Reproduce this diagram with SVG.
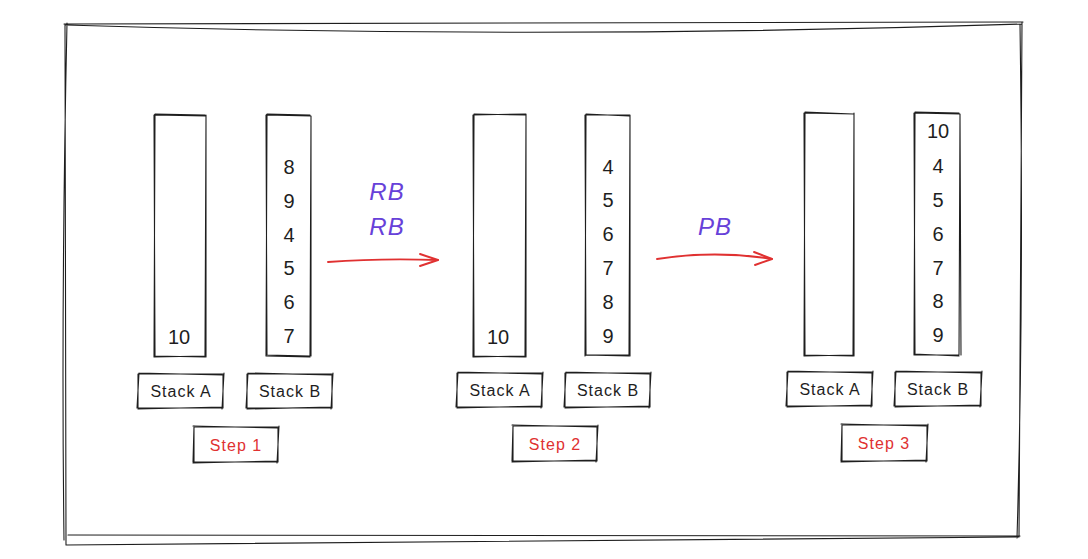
<svg xmlns="http://www.w3.org/2000/svg" width="1088" height="559" viewBox="0 0 1088 559">
<style>
.sk{fill:none;stroke:#1e1e1e;stroke-width:1.1;stroke-linecap:round;stroke-linejoin:round}
.num{font-family:"Liberation Sans",sans-serif;font-size:20px;fill:#1e1e1e;text-anchor:middle;dominant-baseline:central}
.lbl{font-family:"Liberation Sans",sans-serif;font-size:16px;letter-spacing:1px;fill:#1e1e1e;text-anchor:middle;dominant-baseline:central}
.step{font-family:"Liberation Sans",sans-serif;font-size:16px;letter-spacing:1px;fill:#e03131;text-anchor:middle;dominant-baseline:central}
.op{font-family:"Liberation Sans",sans-serif;font-size:24px;font-style:italic;letter-spacing:1px;fill:#6741d9;text-anchor:middle;dominant-baseline:central}
.arr{fill:none;stroke:#e03131;stroke-width:1.9;stroke-linecap:round;stroke-linejoin:round}
</style>
<rect width="1088" height="559" fill="#ffffff"/>
<g id="frame">
<path class="sk" d="M64 24 L1023 22 M66 25 Q540 40 1022 24 M1022 22 L1019 537 M1020 24 Q1024 300 1017 538 M1019 537 Q540 540 66 545 M1020 536 L68 535 M65 24 L66 545 M67 23 Q61 300 64 540"/>
</g>
<g id="step1">
<g id="s1-stackA-col"><path class="sk" d="M154 115 L206 116 L205 357 L155 356 Z M155 114 L205 115 M206 115 L206 357 M205 356 L154 357 M154 357 L155 114"/><text class="num" x="179" y="337">10</text></g>
<g id="s1-stackB-col"><path class="sk" d="M266 115 L311 116 L310 356 L267 355 Z M267 114 L310 115 M311 116 L311 356 M310 357 L266 356 M266 356 L267 114"/>
<text class="num" x="289" y="167">8</text><text class="num" x="289" y="201">9</text><text class="num" x="289" y="235">4</text><text class="num" x="289" y="268">5</text><text class="num" x="289" y="302">6</text><text class="num" x="289" y="336">7</text></g>
<g id="s1-stackA-lbl"><path class="sk" d="M138 374 L223 374 L223 408 L138 408 Z M139 373 L222 375 M224 373 L222 409 M222 407 L138 409 M137 408 L139 373"/><text class="lbl" x="181" y="391">Stack A</text></g>
<g id="s1-stackB-lbl"><path class="sk" d="M247 374 L332 374 L332 408 L247 408 Z M248 373 L331 375 M333 373 L331 409 M331 407 L247 409 M246 408 L248 373"/><text class="lbl" x="290" y="391">Stack B</text></g>
<g id="s1-step"><path class="sk" d="M194 427 L278 427 L278 462 L194 462 Z M193 426 L277 428 M279 426 L277 463 M277 461 L193 463 M193 462 L194 426"/><text class="step" x="236" y="445">Step 1</text></g>
</g>
<g id="step2">
<g id="s2-stackA-col"><path class="sk" d="M473 115 L526 114 L525 357 L474 356 Z M474 114 L525 115 M526 114 L526 357 M525 356 L473 357 M473 357 L474 115"/><text class="num" x="498" y="337">10</text></g>
<g id="s2-stackB-col"><path class="sk" d="M585 115 L630 115 L629 355 L586 355 Z M586 114 L629 116 M630 115 L630 356 M629 356 L585 355 M585 356 L586 114"/>
<text class="num" x="608" y="167">4</text><text class="num" x="608" y="200">5</text><text class="num" x="608" y="234">6</text><text class="num" x="608" y="268">7</text><text class="num" x="608" y="302">8</text><text class="num" x="608" y="336">9</text></g>
<g id="s2-stackA-lbl"><path class="sk" d="M457 373 L542 373 L542 407 L457 407 Z M458 372 L541 374 M543 372 L541 408 M541 406 L457 408 M456 407 L458 372"/><text class="lbl" x="500" y="390">Stack A</text></g>
<g id="s2-stackB-lbl"><path class="sk" d="M565 373 L650 373 L650 407 L565 407 Z M566 372 L649 374 M651 372 L649 408 M649 406 L565 408 M564 407 L566 372"/><text class="lbl" x="608" y="390">Stack B</text></g>
<g id="s2-step"><path class="sk" d="M513 426 L597 426 L597 461 L513 461 Z M512 425 L596 427 M598 425 L596 462 M596 460 L512 462 M512 461 L513 425"/><text class="step" x="555" y="444">Step 2</text></g>
</g>
<g id="step3">
<g id="s3-stackA-col"><path class="sk" d="M804 113 L854 114 L853 356 L805 355 Z M805 112 L853 114 M854 113 L854 356 M853 355 L804 356 M804 356 L805 113"/></g>
<g id="s3-stackB-col"><path class="sk" d="M914 113 L960 114 L959 355 L915 355 Z M915 112 L959 113 M960 114 L961 355 M959 356 L914 354 M914 355 L915 113"/>
<text class="num" x="938" y="131">10</text><text class="num" x="938" y="166">4</text><text class="num" x="938" y="200">5</text><text class="num" x="938" y="234">6</text><text class="num" x="938" y="268">7</text><text class="num" x="938" y="301">8</text><text class="num" x="938" y="335">9</text></g>
<g id="s3-stackA-lbl"><path class="sk" d="M787 372 L872 372 L872 406 L787 406 Z M788 371 L871 373 M873 371 L871 407 M871 405 L787 407 M786 406 L788 371"/><text class="lbl" x="830" y="389">Stack A</text></g>
<g id="s3-stackB-lbl"><path class="sk" d="M895 372 L981 372 L981 406 L895 406 Z M896 371 L980 373 M982 371 L980 407 M980 405 L895 407 M894 406 L896 371"/><text class="lbl" x="938" y="389">Stack B</text></g>
<g id="s3-step"><path class="sk" d="M842 425 L927 425 L927 461 L842 461 Z M841 424 L926 426 M928 424 L926 462 M926 460 L841 462 M841 461 L842 424"/><text class="step" x="884" y="443">Step 3</text></g>
</g>
<g id="connectors">
<path class="arr" d="M328 262 Q380 258 438 260"/>
<path class="arr" d="M420 254 L438 260 L420 266"/>
<path class="arr" d="M657 259 Q715 250 772 259"/>
<path class="arr" d="M754 252 L772 259 L755 265"/>
<text class="op" x="387" y="191">RB</text>
<text class="op" x="387" y="226">RB</text>
<text class="op" x="715" y="226">PB</text>
</g>
</svg>
